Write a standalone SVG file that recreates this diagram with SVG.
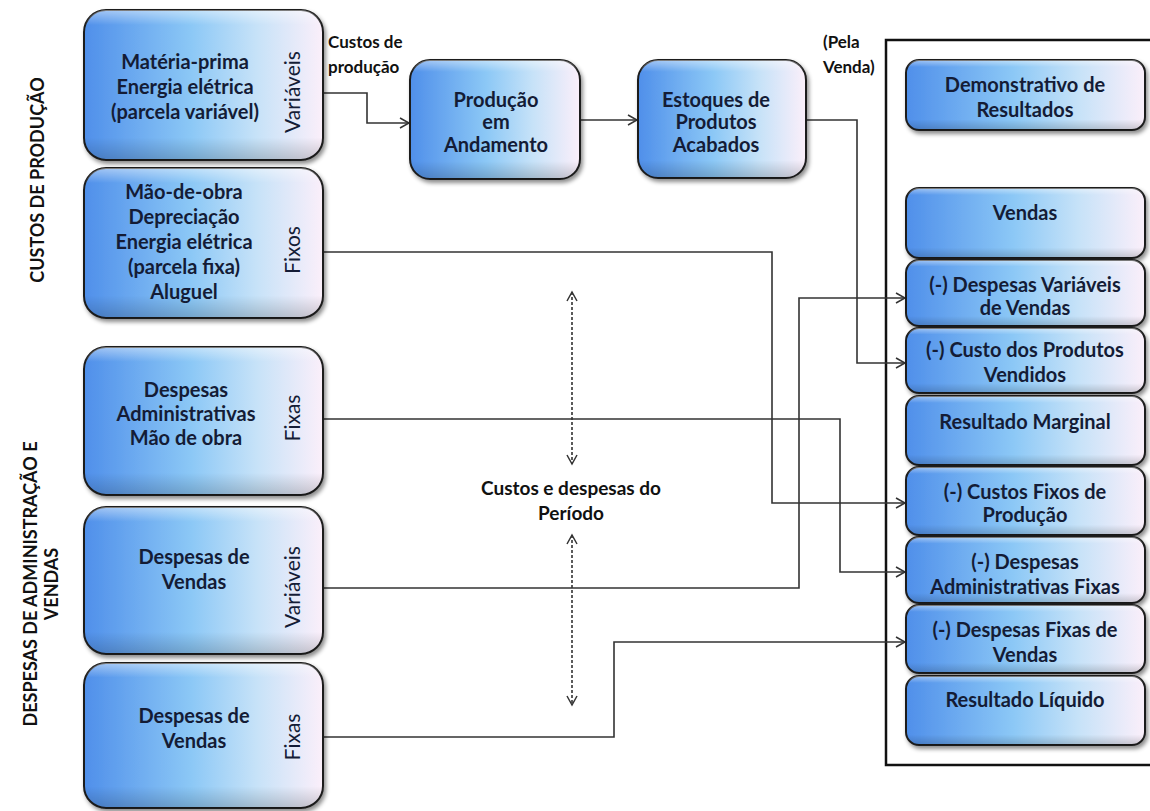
<svg xmlns="http://www.w3.org/2000/svg" width="1150" height="811" viewBox="0 0 1150 811">
  <defs>
    <linearGradient id="fillBlue" x1="0" y1="0" x2="1" y2="0">
      <stop offset="0" stop-color="#4f8fea"/>
      <stop offset="0.45" stop-color="#8cc8f6"/>
      <stop offset="0.72" stop-color="#c6e2f8"/>
      <stop offset="1" stop-color="#fbeffa"/>
    </linearGradient>
    <linearGradient id="gloss" x1="0" y1="0" x2="0" y2="1">
      <stop offset="0" stop-color="#ffffff" stop-opacity="0.45"/>
      <stop offset="0.1" stop-color="#ffffff" stop-opacity="0"/>
      <stop offset="0.85" stop-color="#000000" stop-opacity="0"/>
      <stop offset="1" stop-color="#000000" stop-opacity="0.18"/>
    </linearGradient>
    <filter id="shadow" x="-10%" y="-10%" width="125%" height="130%">
      <feDropShadow dx="2" dy="3" stdDeviation="2" flood-color="#000" flood-opacity="0.45"/>
    </filter>
    <marker id="arrow" markerUnits="userSpaceOnUse" markerWidth="12" markerHeight="12" refX="10" refY="6" orient="auto-start-reverse">
      <path d="M1,1 L10,6 L1,11" fill="none" stroke="#333" stroke-width="1.5"/>
    </marker>
  </defs>
  <style>
    .box { fill: url(#fillBlue); stroke: #1e1e1e; stroke-width: 2; filter: url(#shadow); }
    .gl { fill: url(#gloss); stroke: none; }
    .t { font-family: Lato, "Open Sans", sans-serif; font-weight: bold; font-size: 20px; fill: #141c36; text-anchor: middle; }
    .side { font-family: Lato, "Open Sans", sans-serif; font-size: 21px; fill: #141c36; text-anchor: middle; }
    .lbl { font-family: Lato, "Open Sans", sans-serif; font-weight: bold; font-size: 17px; fill: #111; }
    .mid { font-family: Lato, "Open Sans", sans-serif; font-weight: bold; font-size: 19px; fill: #111; text-anchor: middle; }
    .group { font-family: Lato, "Open Sans", sans-serif; font-weight: bold; font-size: 18px; fill: #111; text-anchor: middle; }
    .conn { fill: none; stroke: #333; stroke-width: 1.6; }
    .dash { fill: none; stroke: #333; stroke-width: 1.6; stroke-dasharray: 3 2; }
    .frame { fill: none; stroke: #111; stroke-width: 2.5; }
  </style>

  <rect width="1150" height="811" fill="#ffffff"/>

  <!-- section labels -->
  <text class="group" transform="rotate(-90 44 180)" x="44" y="180">CUSTOS DE PRODUÇÃO</text>
  <text class="group" transform="rotate(-90 37 584)" x="37" y="584">DESPESAS DE ADMINISTRAÇÃO E</text>
  <text class="group" transform="rotate(-90 58 584)" x="58" y="584">VENDAS</text>

  <!-- result statement frame -->
  <path class="frame" d="M1152,40 H886 V765 H1152"/>

  <!-- connectors -->
  <g id="connectors">
    <path class="conn" d="M323,93 H367 V123 H409" marker-end="url(#arrow)"/>
    <path class="conn" d="M580,120 H637" marker-end="url(#arrow)"/>
    <path class="conn" d="M806,120 H857 V363 H905" marker-end="url(#arrow)"/>
    <path class="conn" d="M323,252 H772 V503 H905" marker-end="url(#arrow)"/>
    <path class="conn" d="M323,419 H840 V572 H905" marker-end="url(#arrow)"/>
    <path class="conn" d="M323,588 H799 V298 H905" marker-end="url(#arrow)"/>
    <path class="conn" d="M323,737 H614 V642 H905" marker-end="url(#arrow)"/>
    <path class="dash" d="M572,292 V464" marker-start="url(#arrow)" marker-end="url(#arrow)"/>
    <path class="dash" d="M572,535 V705" marker-start="url(#arrow)" marker-end="url(#arrow)"/>
  </g>

  <text class="lbl" x="328" y="48">Custos de</text>
  <text class="lbl" x="328" y="73">produção</text>
  <text class="lbl" x="823" y="48">(Pela</text>
  <text class="lbl" x="823" y="73">Venda)</text>
  <text class="mid" x="571" y="495">Custos e despesas do</text>
  <text class="mid" x="571" y="520">Período</text>

  <!-- production cost boxes -->
  <g id="materia-prima">
    <rect class="box" x="84" y="10" width="239" height="150" rx="22"/>
    <rect class="gl" x="84" y="10" width="239" height="150" rx="22"/>
    <text class="t" x="185" y="69">Matéria-prima</text>
    <text class="t" x="185" y="94">Energia elétrica</text>
    <text class="t" x="185" y="119">(parcela variável)</text>
    <text class="side" transform="rotate(-90 300 92)" x="300" y="92">Variáveis</text>
  </g>
  <g id="mao-de-obra">
    <rect class="box" x="84" y="168" width="239" height="150" rx="22"/>
    <rect class="gl" x="84" y="168" width="239" height="150" rx="22"/>
    <text class="t" x="184" y="199">Mão-de-obra</text>
    <text class="t" x="184" y="224">Depreciação</text>
    <text class="t" x="184" y="249">Energia elétrica</text>
    <text class="t" x="184" y="274">(parcela fixa)</text>
    <text class="t" x="184" y="299">Aluguel</text>
    <text class="side" transform="rotate(-90 300 250)" x="300" y="250">Fixos</text>
  </g>

  <!-- administration and sales expense boxes -->
  <g id="desp-administrativas">
    <rect class="box" x="84" y="347" width="239" height="148" rx="22"/>
    <rect class="gl" x="84" y="347" width="239" height="148" rx="22"/>
    <text class="t" x="186" y="397">Despesas</text>
    <text class="t" x="186" y="421">Administrativas</text>
    <text class="t" x="186" y="445">Mão de obra</text>
    <text class="side" transform="rotate(-90 300 418)" x="300" y="418">Fixas</text>
  </g>
  <g id="desp-vendas-variaveis">
    <rect class="box" x="84" y="507" width="239" height="147" rx="22"/>
    <rect class="gl" x="84" y="507" width="239" height="147" rx="22"/>
    <text class="t" x="194" y="564">Despesas de</text>
    <text class="t" x="194" y="589">Vendas</text>
    <text class="side" transform="rotate(-90 300 587)" x="300" y="587">Variáveis</text>
  </g>
  <g id="desp-vendas-fixas">
    <rect class="box" x="84" y="663" width="239" height="145" rx="22"/>
    <rect class="gl" x="84" y="663" width="239" height="145" rx="22"/>
    <text class="t" x="194" y="723">Despesas de</text>
    <text class="t" x="194" y="748">Vendas</text>
    <text class="side" transform="rotate(-90 300 737)" x="300" y="737">Fixas</text>
  </g>

  <!-- flow boxes -->
  <g id="producao-andamento">
    <rect class="box" x="410" y="60" width="170" height="119" rx="20"/>
    <rect class="gl" x="410" y="60" width="170" height="119" rx="20"/>
    <text class="t" x="496" y="107">Produção</text>
    <text class="t" x="496" y="129">em</text>
    <text class="t" x="496" y="152">Andamento</text>
  </g>
  <g id="estoques">
    <rect class="box" x="638" y="60" width="168" height="118" rx="20"/>
    <rect class="gl" x="638" y="60" width="168" height="118" rx="20"/>
    <text class="t" x="716" y="107">Estoques de</text>
    <text class="t" x="716" y="129">Produtos</text>
    <text class="t" x="716" y="152">Acabados</text>
  </g>

  <!-- income statement -->
  <g id="demonstrativo">
    <rect class="box" x="906" y="60" width="239" height="70" rx="13"/>
    <rect class="gl" x="906" y="60" width="239" height="70" rx="13"/>
    <text class="t" x="1025" y="92">Demonstrativo de</text>
    <text class="t" x="1025" y="117">Resultados</text>
  </g>
  <g id="vendas">
    <rect class="box" x="906" y="188" width="239" height="70" rx="13"/>
    <rect class="gl" x="906" y="188" width="239" height="70" rx="13"/>
    <text class="t" x="1025" y="220">Vendas</text>
  </g>
  <g id="desp-variaveis-vendas">
    <rect class="box" x="906" y="260" width="239" height="66" rx="13"/>
    <rect class="gl" x="906" y="260" width="239" height="66" rx="13"/>
    <text class="t" x="1025" y="292">(-) Despesas Variáveis</text>
    <text class="t" x="1025" y="315">de Vendas</text>
  </g>
  <g id="custo-produtos-vendidos">
    <rect class="box" x="906" y="328" width="239" height="65" rx="13"/>
    <rect class="gl" x="906" y="328" width="239" height="65" rx="13"/>
    <text class="t" x="1025" y="357">(-) Custo dos Produtos</text>
    <text class="t" x="1025" y="382">Vendidos</text>
  </g>
  <g id="resultado-marginal">
    <rect class="box" x="906" y="396" width="239" height="69" rx="13"/>
    <rect class="gl" x="906" y="396" width="239" height="69" rx="13"/>
    <text class="t" x="1025" y="429">Resultado Marginal</text>
  </g>
  <g id="custos-fixos-producao">
    <rect class="box" x="906" y="467" width="239" height="68" rx="13"/>
    <rect class="gl" x="906" y="467" width="239" height="68" rx="13"/>
    <text class="t" x="1025" y="499">(-) Custos Fixos de</text>
    <text class="t" x="1025" y="522">Produção</text>
  </g>
  <g id="desp-administrativas-fixas">
    <rect class="box" x="906" y="537" width="239" height="66" rx="13"/>
    <rect class="gl" x="906" y="537" width="239" height="66" rx="13"/>
    <text class="t" x="1025" y="569">(-) Despesas</text>
    <text class="t" x="1025" y="594">Administrativas Fixas</text>
  </g>
  <g id="desp-fixas-vendas">
    <rect class="box" x="906" y="605" width="239" height="68" rx="13"/>
    <rect class="gl" x="906" y="605" width="239" height="68" rx="13"/>
    <text class="t" x="1025" y="637">(-) Despesas Fixas de</text>
    <text class="t" x="1025" y="662">Vendas</text>
  </g>
  <g id="resultado-liquido">
    <rect class="box" x="906" y="676" width="239" height="69" rx="13"/>
    <rect class="gl" x="906" y="676" width="239" height="69" rx="13"/>
    <text class="t" x="1025" y="707">Resultado Líquido</text>
  </g>
</svg>
